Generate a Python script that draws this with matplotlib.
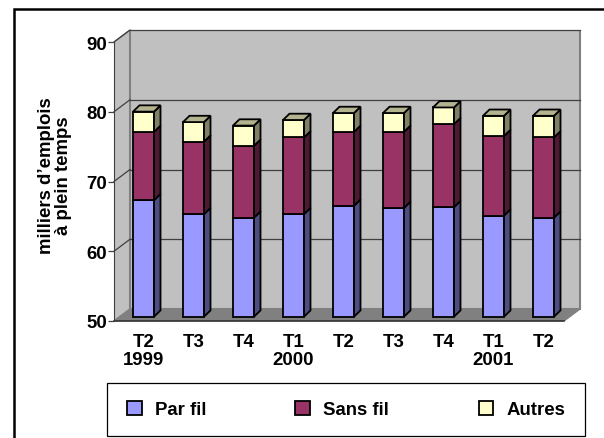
import matplotlib
matplotlib.use("Agg")
import matplotlib.pyplot as plt
from matplotlib.patches import Polygon, Rectangle, Patch

# data (thousands of full-time jobs)
quarters = ["T2\n1999", "T3", "T4", "T1\n2000", "T2", "T3", "T4", "T1\n2001", "T2"]
par_fil = [66.7, 64.7, 64.2, 64.7, 65.9, 65.6, 65.7, 64.5, 64.2]
sans_fil = [9.8, 10.4, 10.3, 11.0, 10.6, 10.9, 11.9, 11.4, 11.5]
autres = [2.9, 2.8, 2.9, 2.5, 2.7, 2.7, 2.4, 2.9, 3.1]
series_names = ["Par fil", "Sans fil", "Autres"]

# colours: front face, side face, top face
colors = {
    "Par fil": ("#9999FF", "#4D4D80", "#7A7ACC"),
    "Sans fil": ("#993366", "#4D1A33", "#7A2952"),
    "Autres": ("#FFFFCC", "#808066", "#B3B38F"),
}

plt.rcParams['font.family'] = ['Liberation Sans', 'DejaVu Sans']
FS = 13.4

W, H = 604, 439
fig = plt.figure(figsize=(W / 100, H / 100), dpi=100)

# front plane: x=114px..565px (9 categories), y 50->322px, 90->43px
px_cat = 50.0
px_unit = (322 - 43) / 40.0
ymin = 50
wall_dx = 16 / px_cat
wall_dy = 12 / px_unit
bar_dx = 0.09
bar_dy = 4.3 / px_unit
bar_w = 21 / px_cat
depth_dx = 6.5 / px_cat
depth_dy = 6.3 / px_unit
n = len(quarters)

ax_left, ax_right, ax_bottom, ax_top = 114, 582, 322, 31
ax = fig.add_axes([ax_left / W, (H - ax_bottom) / H,
                   (ax_right - ax_left) / W, (ax_bottom - ax_top) / H])
ax.set_xlim(0, (ax_right - ax_left) / px_cat)
ax.set_ylim(ymin, ymin + (ax_bottom - ax_top) / px_unit)
ax.patch.set_visible(False)
for s in ["top", "right", "bottom"]:
    ax.spines[s].set_visible(False)

# walls and floor
ymax = 90
ax.add_patch(Polygon([(0, ymin), (0, ymax), (wall_dx, ymax + wall_dy), (wall_dx, ymin + wall_dy)],
                     closed=True, facecolor="#C0C0C0", edgecolor="#808080", lw=1, zorder=0))
ax.add_patch(Rectangle((wall_dx, ymin + wall_dy), n, ymax - ymin,
                       facecolor="#C0C0C0", edgecolor="#808080", lw=1.5, zorder=0))
ax.add_patch(Polygon([(0, ymin), (n, ymin), (n + wall_dx, ymin + wall_dy), (wall_dx, ymin + wall_dy)],
                     closed=True, facecolor="#808080", edgecolor="#808080", lw=1, zorder=0.5))
ax.plot([0, n], [ymin, ymin], color="#303030", lw=1.2, zorder=0.6, clip_on=False)

# gridlines on back and side walls
for v in [60, 70, 80, 90]:
    ax.plot([wall_dx, n + wall_dx], [v + wall_dy, v + wall_dy], color="#404040", lw=0.9, zorder=0.3, clip_on=False)
    ax.plot([0, wall_dx], [v, v + wall_dy], color="#404040", lw=0.9, zorder=0.3, clip_on=False)

# stacked 3D bars
centers = [i + 0.5 + bar_dx for i in range(n)]
bottoms = [ymin + bar_dy] * n
stack = [par_fil, [p + s for p, s in zip(par_fil, sans_fil)],
         [p + s + a for p, s, a in zip(par_fil, sans_fil, autres)]]
for k, name in enumerate(series_names):
    front, side, top = colors[name]
    tops = [v + bar_dy for v in stack[k]]
    heights = [t - b for t, b in zip(tops, bottoms)]
    ax.bar(centers, heights, bottom=bottoms, width=bar_w, color=front,
           edgecolor="black", linewidth=1.3, zorder=2)
    for c, b, t in zip(centers, bottoms, tops):
        xr = c + bar_w / 2
        xl = c - bar_w / 2
        ax.add_patch(Polygon([(xr, b), (xr + depth_dx, b + depth_dy),
                              (xr + depth_dx, t + depth_dy), (xr, t)],
                             closed=True, facecolor=side, edgecolor="black", lw=1.3, zorder=2))
        if k == len(series_names) - 1:
            ax.add_patch(Polygon([(xl, t), (xl + depth_dx, t + depth_dy),
                                  (xr + depth_dx, t + depth_dy), (xr, t)],
                                 closed=True, facecolor=top, edgecolor="black", lw=1.3, zorder=2))
    bottoms = tops

# axes
ax.spines["left"].set_bounds(50, 90)
ax.spines["left"].set_color("#404040")
ax.set_yticks([50, 60, 70, 80, 90])
ax.tick_params(axis="y", length=4.5, width=0.9, color="#404040", pad=0.5, labelsize=FS)
for lbl in ax.get_yticklabels():
    lbl.set_fontweight("bold")
ax.set_xticks(centers)
ax.set_xticklabels(quarters, fontsize=FS, fontweight="bold", linespacing=1.05)
ax.tick_params(axis="x", length=0, pad=9)

fig.text(55 / W, 1 - 176 / H, "milliers d\u2019emplois\nà plein temps", rotation=90,
         ha="center", va="center", fontsize=FS, fontweight="bold", linespacing=1.0)

# legend: box drawn separately, entries centred in it
box_l, box_t, box_r, box_b = 107, 384, 585, 437
fig.add_artist(Rectangle((box_l / W, 1 - box_b / H), (box_r - box_l) / W, (box_b - box_t) / H,
                         transform=fig.transFigure, facecolor="white", edgecolor="black", lw=0.9))
handles = [Patch(facecolor=colors[nm][0], edgecolor="black", lw=1.3) for nm in series_names]
leg = fig.legend(handles, series_names, loc="center", ncol=3,
                 bbox_to_anchor=((box_l + box_r) / 2 / W, 1 - (box_t + box_b) / 2 / H),
                 frameon=False, handlelength=0.8, handleheight=0.8, handletextpad=0.7,
                 columnspacing=4.8, borderpad=0, borderaxespad=0,
                 prop={"weight": "bold", "size": FS})

# outer chart border
fig.add_artist(Rectangle((14 / W, -0.1), 1.2, 1 - 10 / H + 0.1, transform=fig.transFigure,
                         fill=False, edgecolor="black", lw=1.8))

fig.savefig("out.png", dpi=100)
